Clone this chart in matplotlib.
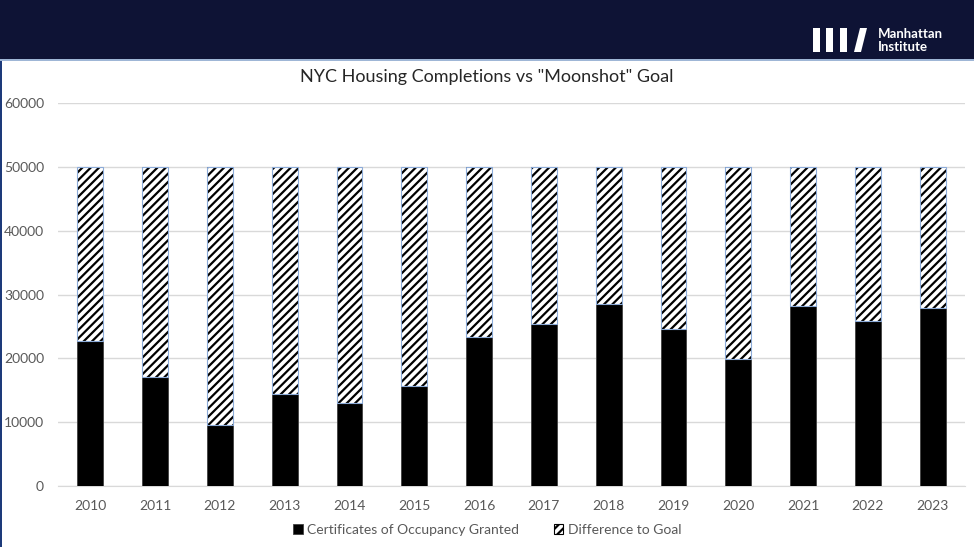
import matplotlib
matplotlib.use("Agg")
from matplotlib import pyplot as plt
from matplotlib.patches import Rectangle, Polygon

years = ["2010", "2011", "2012", "2013", "2014", "2015", "2016",
         "2017", "2018", "2019", "2020", "2021", "2022", "2023"]
completions = [22700, 17100, 9600, 14400, 13000, 15600, 23400,
               25400, 28500, 24600, 19900, 28200, 25800, 27900]
goal = 50000
gap = [goal - c for c in completions]
y_ticks = [0, 10000, 20000, 30000, 40000, 50000, 60000]

plt.rcParams['font.family'] = ['Lato', 'DejaVu Sans']
plt.rcParams['hatch.linewidth'] = 1.6

W, H = 974, 547
fig = plt.figure(figsize=(W / 100, H / 100), dpi=100)
fig.patch.set_facecolor('white')

# header band with logo
fig.patches.append(Rectangle((0, 1 - 59 / H), 1, 59 / H, transform=fig.transFigure,
                             facecolor='#0e1335', edgecolor='none', zorder=0))
fig.patches.append(Rectangle((0, 1 - 61 / H), 1, 2 / H, transform=fig.transFigure,
                             facecolor='#9fb6d6', edgecolor='none', zorder=0))
fig.patches.append(Rectangle((0, 0), 2 / W, 1 - 61 / H, transform=fig.transFigure,
                             facecolor='#1d3a7a', edgecolor='none', zorder=0))
for bx in [813, 826, 840]:
    fig.patches.append(Rectangle((bx / W, 1 - 52 / H), 7 / W, 24 / H,
                                 transform=fig.transFigure, facecolor='white',
                                 edgecolor='none'))
fig.patches.append(Polygon([(854 / W, 1 - 52 / H), (861 / W, 1 - 52 / H),
                            (867 / W, 1 - 28 / H), (860 / W, 1 - 28 / H)],
                           closed=True, transform=fig.transFigure,
                           facecolor='white', edgecolor='none'))
fig.text(878 / W, 1 - 34 / H, "Manhattan", color='white', fontsize=9.5,
         fontweight='bold', va='center', ha='left')
fig.text(878 / W, 1 - 47 / H, "Institute", color='white', fontsize=9.5,
         fontweight='bold', va='center', ha='left')

ax = fig.add_axes([58 / W, 61 / H, 907 / W, 383 / H])
x = range(len(years))

ax.bar(x, completions, 0.4, color='black', edgecolor='#404040', linewidth=0.6,
       label='Certificates of Occupancy Granted', zorder=3)
ax.bar(x, gap, 0.4, bottom=completions, color='white', edgecolor='black',
       linewidth=0, hatch='////', label='Difference to Goal', zorder=3)
ax.bar(x, gap, 0.4, bottom=completions, fill=False, edgecolor='#8cabd8',
       linewidth=0.8, zorder=4)

ax.set_xlim(-0.5, len(years) - 0.5)
ax.set_ylim(0, 60000)
ax.set_yticks(y_ticks)
ax.set_xticks(list(x))
ax.set_xticklabels(years)
ax.yaxis.grid(True, color='#d9d9d9', linewidth=1)
ax.set_axisbelow(True)
for s in ['top', 'right', 'left']:
    ax.spines[s].set_visible(False)
ax.spines['bottom'].set_color('#d9d9d9')
ax.tick_params(axis='both', length=0, labelsize=10, labelcolor='#595959')
ax.tick_params(axis='x', pad=10)
ax.tick_params(axis='y', pad=10)

fig.text(487 / W, 1 - 77 / H, 'NYC Housing Completions vs "Moonshot" Goal',
         ha='center', va='center', fontsize=13, color='#262626')

handles, labels = ax.get_legend_handles_labels()
leg = fig.legend(handles, labels, loc='center', bbox_to_anchor=(0.5, 1 - 530 / H),
                 ncol=2, frameon=False, fontsize=10, labelcolor='#595959',
                 handlelength=0.7, handleheight=0.7, handletextpad=0.3,
                 columnspacing=2.5)
leg.legend_handles[1].set_linewidth(0.8)

fig.savefig('out.png', dpi=100)
